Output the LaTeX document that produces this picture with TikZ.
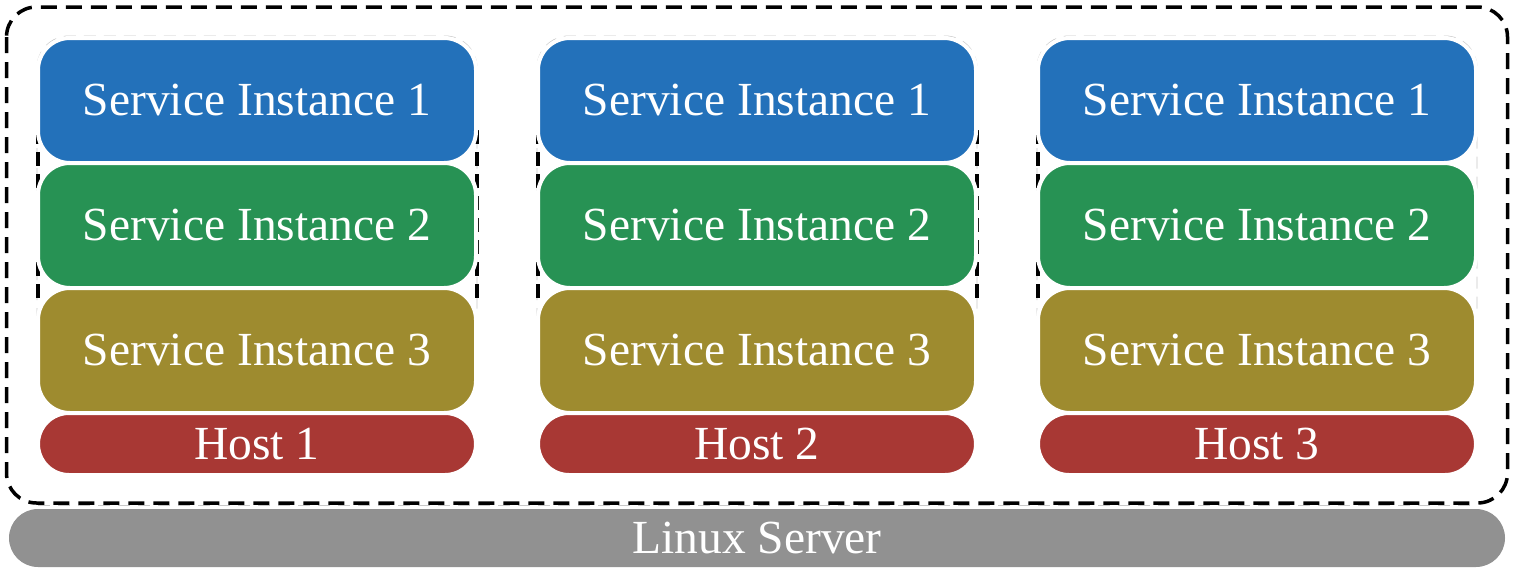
\documentclass[tikz,border=0pt]{standalone}
\usepackage{fontspec}
\setmainfont{Liberation Serif}
\definecolor{sblue}{HTML}{2371BA}
\definecolor{sgreen}{HTML}{279254}
\definecolor{solive}{HTML}{9E8B2F}
\definecolor{shost}{HTML}{A83834}
\definecolor{sgray}{HTML}{919191}
\definecolor{lgray}{HTML}{C8C8C8}
\tikzset{
  boxstyle/.style={draw=white, line width=4pt, rounded corners=32pt, inner sep=0pt,
    minimum width=438pt, minimum height=125pt, text=white,
    font=\fontsize{47.5}{50}\selectfont},
  hoststyle/.style={boxstyle, rounded corners=31pt, minimum height=62pt},
  outerdash/.style={draw=black, line width=3.5pt, dash pattern=on 16pt off 9pt, rounded corners=30pt},
  coldash/.style={draw=black, line width=4pt, dash pattern=on 14pt off 8pt},
  graydash/.style={draw=lgray, line width=0.9pt, dash pattern=on 12pt off 8pt},
}
\begin{document}
\begin{tikzpicture}[x=1pt,y=-1pt]
\useasboundingbox[fill=white] (0,0) rectangle (1513,576);
% outer dashed container
\draw[outerdash] (6.5,7) rectangle (1507.5,503);
\draw[graydash] (38,505) -- (1472,505);
% column guides
\foreach \o in {0,500,1000}{
  \draw[graydash, rounded corners=32pt] (37+\o,36) rectangle (477+\o,412);
  \draw[coldash] (37.5+\o,130) -- (37.5+\o,303);
}
\foreach \o in {0,500}{
  \draw[coldash] (476.7+\o,130) -- (476.7+\o,303);
}
% columns
\foreach \o/\h in {0/1,500/2,1000/3}{
  \node[boxstyle, fill=sblue]  (si1-\h) at (257+\o,100.5) {Service Instance 1};
  \node[boxstyle, fill=sgreen] (si2-\h) at (257+\o,225.5) {Service Instance 2};
  \node[boxstyle, fill=solive] (si3-\h) at (257+\o,350.5) {Service Instance 3};
  \node[hoststyle, fill=shost] (host-\h) at (257+\o,444) {Host \h};
}
% server
\node[hoststyle, draw=none, fill=sgray, rounded corners=29pt, minimum width=1496pt, minimum height=58pt] (linux) at (757,538) {Linux Server};
\end{tikzpicture}
\end{document}
